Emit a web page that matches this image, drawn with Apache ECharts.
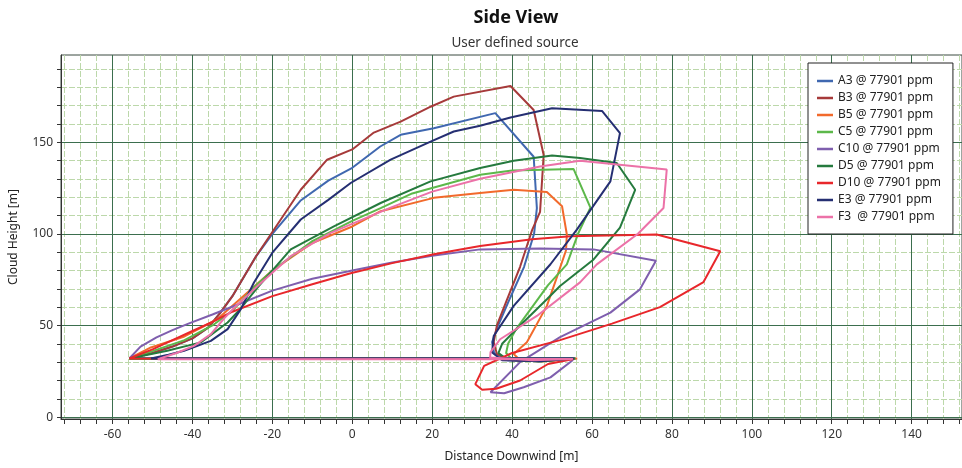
<!DOCTYPE html>
<html>
<head>
<meta charset="utf-8">
<script src="https://cdn.jsdelivr.net/npm/echarts@6/dist/echarts.min.js"></script>
<style>
  html, body { margin: 0; padding: 0; background: #fff; }
  #chart { width: 962px; height: 468px; }
</style>
</head>
<body>
<div id="chart"></div>
<script>
// Cloud outline (side view) for each stability/wind case: [distance downwind m, height m]
const a3 = [[-55.8,32],[-50,35],[-45,38.5],[-40,43],[-36,49],[-33,57],[-30,66],[-27,77],[-24,88],[-20,100],[-13,118],[-6,129],[0,136],[7,147.6],[12.1,154],[20.4,157.6],[35.8,165.8],[45.4,142],[46.2,114],[45.5,100],[43,82],[39.5,65],[36.5,50],[35,41],[35.5,35],[39,31],[47,30.5],[55.8,32],[-55.8,32]];
const b3 = [[-55.8,32],[-50,35],[-45,38.5],[-40,43],[-36,49],[-33,57],[-30,66],[-27,77],[-24,88],[-20,101],[-12.9,124],[-6.3,140.4],[0,146],[5.4,155.2],[12.1,161.2],[19.6,169.3],[25.4,174.8],[39.6,180.6],[45.4,167.5],[47.9,143],[47,112],[45,102],[42,82],[38.7,64],[36.2,50],[35.4,41],[36.2,34.4],[40,31],[47,30.5],[55.8,32],[-55.8,32]];
const b5 = [[-55.8,32],[-50.4,38],[-42,44],[-33.8,53.4],[-26.3,67.9],[-20,80],[-10,95],[0,104],[7.1,112.3],[20.4,119.6],[32,122.3],[40.4,124],[48.7,122.8],[52.5,115],[53.7,99.6],[53.5,91],[51,75],[48.7,60.7],[43.7,40.8],[40.4,34.4],[42,31],[48,30.5],[56.3,32],[-55.8,32]];
const c5 = [[-55.8,32],[-50,36],[-42,42],[-35,50],[-30,58],[-25,70],[-20,80],[-10,96],[0,107],[7.1,114],[15,122],[32,132.2],[40,134.5],[55.4,135.3],[59.6,114.3],[56.5,100],[53.7,83.3],[49,72],[45,60],[41,48],[39,40],[38.5,35],[40,31.5],[47,30.5],[55.8,32],[-55.8,32]];
const c10 = [[-55.8,32],[-53,38.5],[-49,43.5],[-45,47.5],[-41,51],[-35,56],[-28,62],[-20,69],[-10,75.5],[0,80],[10,84.4],[20,88],[32,91.5],[47,92],[60.4,91.5],[76,85.3],[72,69.7],[64.6,57],[52,43.6],[42,30],[34.6,13.6],[38,13],[42.9,16.3],[49.6,21.7],[55,30.8],[55.6,32.3],[-55.8,32.3]];
const d5 = [[-55.8,32],[-46.3,36.2],[-37.9,40.8],[-31.2,51.6],[-28,59],[-24,70],[-15.4,91.5],[-4.6,104],[7.1,116.8],[19.6,128.6],[32,135.9],[40.4,139.8],[50,142.7],[57,141.3],[66.2,138.6],[70.8,124],[67,103.4],[60.4,86],[52,71.5],[48.7,64.3],[42,50],[37.5,40],[36.6,35],[38.7,31.5],[47,30.5],[55.8,32],[-55.8,32]];
const d10 = [[-55.8,32],[-50,37],[-45,42],[-40,47],[-35,52],[-30,57.5],[-20,66],[-10,72.5],[-0.4,78.5],[10,84],[20.4,88.8],[32,93.3],[45,97],[54.6,98.7],[76.2,99.6],[92.1,90.5],[87.9,73.7],[77,60],[65,51],[52,42],[40,35],[33,28],[30.8,18],[32.5,15],[36,15.5],[42,20],[49,29],[55.4,31.7],[-55.8,32]];
const e3 = [[-50.4,32],[-46,34],[-42.1,36.2],[-35.4,41.6],[-31.2,48],[-27.9,58.9],[-24.6,73.4],[-20,89.7],[-12.9,107.8],[-6,118.5],[-0.4,127.7],[9.6,140.4],[19.6,150.3],[25.4,155.8],[32,158.9],[39.6,163.4],[50,168.5],[62.5,167],[67,154.9],[64.6,128.6],[56.2,102.3],[49.6,83.4],[40.4,60.7],[35.4,44.3],[35,35.3],[37.5,31],[47,30.5],[55.4,32],[-50.4,32]];
const f3 = [[-48.7,31.6],[-44,35],[-39.6,38.9],[-35.4,45.3],[-32,54],[-29.6,59.5],[-23.7,71.5],[-15.4,87.8],[-5.4,100.5],[9.6,114.3],[20,123],[32,130],[47,136.7],[57,139.8],[78.7,135],[77.9,114.1],[71.5,100],[61.2,83.3],[57,73.5],[46.2,55.2],[37,42.5],[34.6,35.5],[34.5,32.5],[45,31],[55.2,31.7],[-48.7,31.6]];

const seriesNames = ['A3 @ 77901 ppm','B3 @ 77901 ppm','B5 @ 77901 ppm','C5 @ 77901 ppm','C10 @ 77901 ppm','D5 @ 77901 ppm','D10 @ 77901 ppm','E3 @ 77901 ppm','F3  @ 77901 ppm'];
const seriesData = [a3, b3, b5, c5, c10, d5, d10, e3, f3];
const seriesColors = ['#4068b0','#a63a3a','#f26a2c','#5cb84a','#7f5fae','#257a3e','#e8272b','#252f72','#ec72a8'];

// Axis ranges and tick positions
const xRange = [-72.9, 152.6];
const yRange = [-1, 197.5];
const xMajorTicks = [-60,-40,-20,0,20,40,60,80,100,120,140];
const yMajorTicks = [0,50,100,150];
const xMinorTicks = [];
for (let v = -72; v <= 152; v += 4) xMinorTicks.push(v);
const yMinorTicks = [];
for (let v = 0; v <= 190; v += 10) yMinorTicks.push(v);

const FONT = 'Noto Sans';
const majorColor = '#3b6e4e';
const minorColor = '#bcd8aa';
const axisColor = '#333';

const chart = echarts.init(document.getElementById('chart'), null, { renderer: 'canvas' });

chart.setOption({
  animation: false,
  backgroundColor: '#fff',
  textStyle: { fontFamily: FONT },
  title: [
    { text: 'Side View', left: 511, top: 4, textAlign: 'center',
      textStyle: { fontFamily: FONT, fontSize: 18, fontWeight: 'bold', color: '#111' } },
    { text: 'User defined source', left: 510, top: 31, textAlign: 'center',
      textStyle: { fontFamily: FONT, fontSize: 13.5, fontWeight: 'normal', color: '#333' } }
  ],
  legend: {
    orient: 'vertical',
    left: 808, top: 63,
    padding: [11, 12, 10, 9],
    itemGap: 3,
    itemWidth: 16, itemHeight: 2.5,
    icon: 'rect',
    backgroundColor: '#fff',
    borderColor: '#222', borderWidth: 1,
    borderRadius: 0,
    textStyle: { fontFamily: FONT, fontSize: 12, color: '#222', lineHeight: 14, padding: [0,0,0,0] },
    data: seriesNames
  },
  grid: { left: 60, right: 0, top: 55, bottom: 47.5, show: true, borderColor: '#3a4a40', borderWidth: 1, backgroundColor: '#fff' },
  xAxis: [
    {
      type: 'value', min: xRange[0], max: xRange[1], position: 'bottom', z: 3,
      name: 'Distance Downwind [m]', nameLocation: 'middle', nameGap: 32,
      nameTextStyle: { fontFamily: FONT, fontSize: 12, color: '#222' },
      axisLine: { show: true, onZero: false, lineStyle: { color: axisColor, width: 1 } },
      axisTick: { show: true, customValues: xMajorTicks, length: 5, lineStyle: { color: axisColor } },
      axisLabel: { customValues: xMajorTicks, fontFamily: FONT, fontSize: 12, color: '#333', margin: 10 },
      splitLine: { show: true, lineStyle: { color: majorColor, width: 1 } }
    },
    {
      type: 'value', min: xRange[0], max: xRange[1], position: 'bottom', z: 1,
      axisLine: { show: false, onZero: false },
      axisTick: { show: true, customValues: xMinorTicks, length: 5, lineStyle: { color: axisColor } },
      axisLabel: { show: false },
      splitLine: { show: true, lineStyle: { color: minorColor, width: 1, type: [6, 2] } }
    }
  ],
  yAxis: [
    {
      type: 'value', min: yRange[0], max: yRange[1], position: 'left', z: 3,
      name: 'Cloud Height [m]', nameLocation: 'middle', nameGap: 41,
      nameTextStyle: { fontFamily: FONT, fontSize: 12, color: '#222' },
      axisLine: { show: true, onZero: false, lineStyle: { color: axisColor, width: 1 } },
      axisTick: { show: true, customValues: yMajorTicks, length: 4, lineStyle: { color: axisColor } },
      axisLabel: { customValues: yMajorTicks, fontFamily: FONT, fontSize: 12, color: '#333', margin: 8 },
      splitLine: { show: true, lineStyle: { color: majorColor, width: 1 } }
    },
    {
      type: 'value', min: yRange[0], max: yRange[1], position: 'left', z: 1,
      axisLine: { show: false, onZero: false },
      axisTick: { show: true, customValues: yMinorTicks, length: 4, lineStyle: { color: axisColor } },
      axisLabel: { show: false },
      splitLine: { show: true, lineStyle: { color: minorColor, width: 1, type: [6, 2] } }
    }
  ],
  series: seriesData.map((d, i) => ({
    name: seriesNames[i],
    type: 'line',
    xAxisIndex: 0, yAxisIndex: 0,
    data: d,
    showSymbol: false,
    symbol: 'none',
    smooth: false,
    z: 5 + i,
    color: seriesColors[i],
    lineStyle: { color: seriesColors[i], width: 2 },
    emphasis: { disabled: true }
  }))
});
</script>
</body>
</html>
